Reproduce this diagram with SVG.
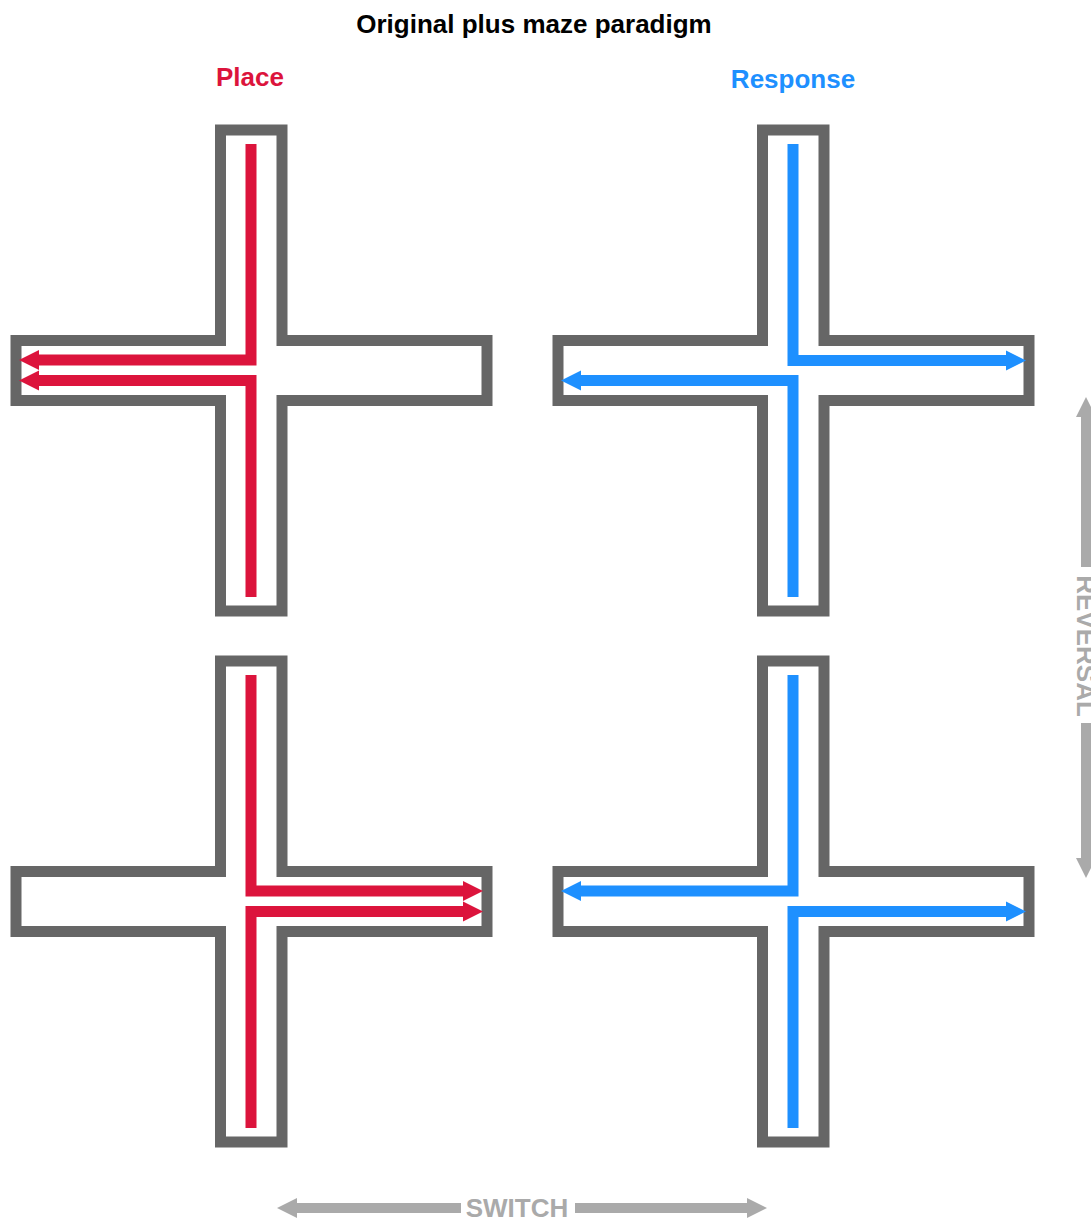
<svg xmlns="http://www.w3.org/2000/svg" xmlns:xlink="http://www.w3.org/1999/xlink" width="1091" height="1218" viewBox="0 0 1091 1218">
<style>
.maze{fill:#ffffff;stroke:#666666;stroke-width:11;stroke-linejoin:miter}
.red{fill:none;stroke:#DC143C;stroke-width:11;stroke-linejoin:miter}
.blue{fill:none;stroke:#1E90FF;stroke-width:11;stroke-linejoin:miter}
.gray{fill:none;stroke:#AAAAAA;stroke-width:10}
.t{font-family:"Liberation Sans",Arial,Helvetica,sans-serif;font-weight:bold;font-size:26px;text-anchor:middle}
</style>
<defs>
<path id="plus" class="maze" d="M220.5,130 H282 V340.5 H487 V400.5 H282 V611 H220.5 V400.5 H16 V340.5 H220.5 Z"/>
<marker id="mr" markerUnits="userSpaceOnUse" markerWidth="20" markerHeight="20" refX="0" refY="10" orient="auto" overflow="visible"><polygon points="0,0 20,10 0,20" fill="#DC143C"/></marker>
<marker id="mb" markerUnits="userSpaceOnUse" markerWidth="20" markerHeight="20" refX="0" refY="10" orient="auto" overflow="visible"><polygon points="0,0 20,10 0,20" fill="#1E90FF"/></marker>
<marker id="mg" markerUnits="userSpaceOnUse" markerWidth="20" markerHeight="20" refX="0" refY="10" orient="auto" overflow="visible"><polygon points="0,0 20,10 0,20" fill="#AAAAAA"/></marker>
</defs>
<rect width="1091" height="1218" fill="#ffffff"/>
<g id="title"><text class="t" x="534" y="33" fill="#000000">Original plus maze paradigm</text></g>
<g id="label-place"><text class="t" x="250" y="86" fill="#DC143C">Place</text></g>
<g id="label-response"><text class="t" x="793" y="88" fill="#1E90FF">Response</text></g>
<g id="maze-place-top"><use xlink:href="#plus"/></g>
<g id="maze-place-bottom"><use xlink:href="#plus" transform="translate(0,531)"/></g>
<g id="maze-response-top"><use xlink:href="#plus" transform="translate(542,0)"/></g>
<g id="maze-response-bottom"><use xlink:href="#plus" transform="translate(542,531)"/></g>
<g id="connectors">
<path class="red" d="M251,144 V360 H39" marker-end="url(#mr)"/>
<path class="red" d="M251,597 V380.5 H39" marker-end="url(#mr)"/>
<path class="red" d="M251,675 V891 H463" marker-end="url(#mr)"/>
<path class="red" d="M251,1128 V911.5 H463" marker-end="url(#mr)"/>
<path class="blue" d="M793,144 V360.5 H1006" marker-end="url(#mb)"/>
<path class="blue" d="M793,597 V380.5 H581" marker-end="url(#mb)"/>
<path class="blue" d="M793,675 V891 H581" marker-end="url(#mb)"/>
<path class="blue" d="M793,1128 V911.5 H1006" marker-end="url(#mb)"/>
<path class="gray" d="M1086,567 V417" marker-end="url(#mg)"/>
<path class="gray" d="M1086,723 V858" marker-end="url(#mg)"/>
<path class="gray" d="M461,1208 H297" marker-end="url(#mg)"/>
<path class="gray" d="M575,1208 H747" marker-end="url(#mg)"/>
</g>
<g id="label-reversal"><text class="t" transform="translate(1077,646) rotate(90)" x="0" y="0" fill="#AAAAAA">REVERSAL</text></g>
<g id="label-switch"><text class="t" x="517" y="1217" fill="#AAAAAA">SWITCH</text></g>
</svg>
